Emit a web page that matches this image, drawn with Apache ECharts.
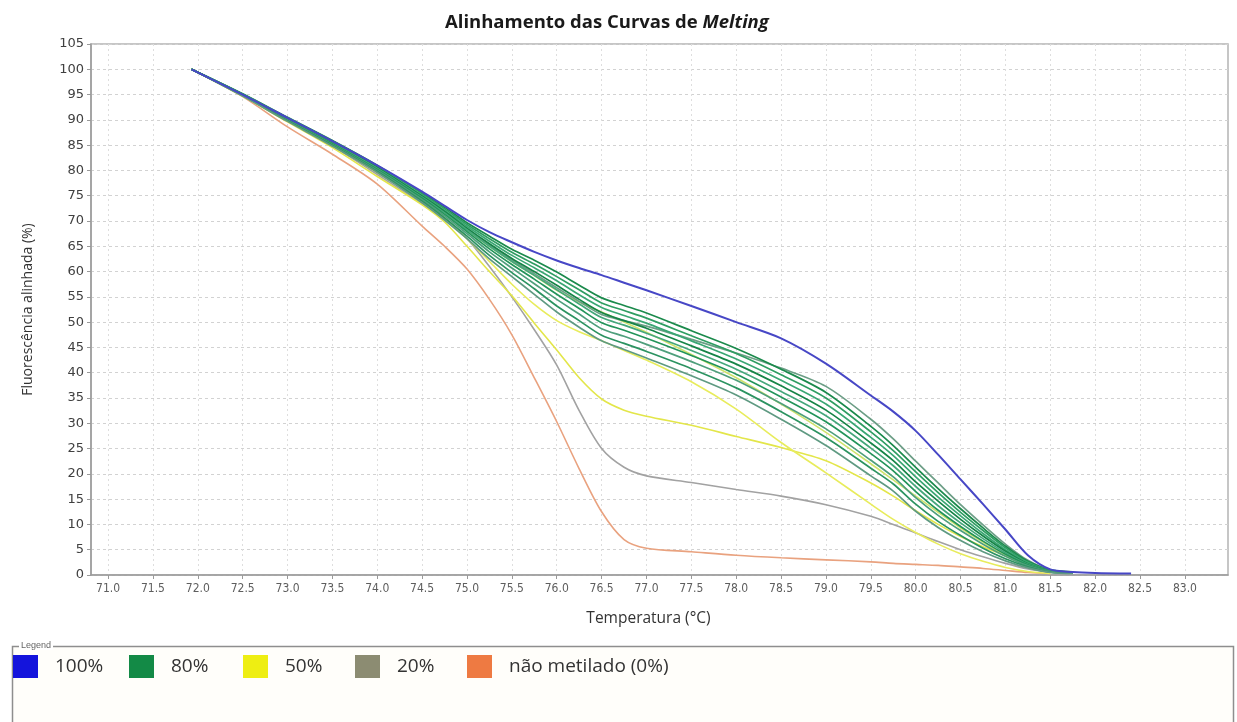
<!DOCTYPE html>
<html>
<head>
<meta charset="utf-8">
<title>Alinhamento das Curvas de Melting</title>
<script src="https://cdn.jsdelivr.net/npm/echarts@6/dist/echarts.min.js"></script>
<style>
  html, body { margin: 0; padding: 0; background: #ffffff; }
  #chart { width: 1237px; height: 722px; }
</style>
</head>
<body>
<div id="chart"></div>
<script>
// Temperatures (°C) at which each melting curve is sampled
const TEMPS = [71.93, 72.5, 73.0, 73.5, 74.0, 74.5, 74.75, 75.0, 75.25, 75.5, 75.75, 76.0, 76.25, 76.5, 76.75, 77.0,
               77.5, 78.0, 78.5, 79.0, 79.5, 79.75, 80.0, 80.25, 80.5, 80.75, 81.0, 81.25, 81.5, 81.75, 82.0, 82.4];

// Tick positions on the temperature axis
const X_TICKS = [71.0, 71.5, 72.0, 72.5, 73.0, 73.5, 74.0, 74.5, 75.0, 75.5, 76.0, 76.5, 77.0,
                 77.5, 78.0, 78.5, 79.0, 79.5, 80.0, 80.5, 81.0, 81.5, 82.0, 82.5, 83.0];

// Aligned fluorescence (%) per curve
const M100 = [100, 95.0, 90.4, 85.8, 81.0, 75.8, 73.0, 70.2, 67.8, 65.8, 63.9, 62.2, 60.7, 59.3, 57.8, 56.3,
              53.2, 50.0, 46.8, 41.8, 35.5, 32.3, 28.5, 23.8, 18.9, 14.0, 9.0, 3.9, 1.1, 0.6, 0.4, 0.3];

const M80_A = [100, 95.0, 90.2, 85.5, 80.5, 74.8, 71.8, 68.4, 65.3, 62.3, 59.6, 56.8, 54.1, 51.5, 50.3, 49.2,
               46.6, 43.9, 40.9, 37.3, 30.8, 26.9, 22.5, 18.2, 13.9, 9.9, 6.1, 2.9, 1.0, 0.6, null, null];
const M80_B = [100, 95.15, 90.5, 85.9, 81.0, 75.6, 72.7, 69.65, 67.0, 64.4, 62.25, 59.9, 57.3, 54.8, 53.3, 51.8,
               48.3, 44.8, 40.7, 36.1, 29.4, 25.6, 21.3, 17.1, 13.1, 9.3, 5.7, 2.7, 1.0, 0.6, null, null];
const M80_C = [100, 95.1, 90.4, 85.8, 80.9, 75.4, 72.4, 69.3, 66.5, 63.8, 61.5, 59.0, 56.4, 53.8, 52.3, 50.8,
               47.3, 43.8, 39.6, 35.0, 28.3, 24.6, 20.4, 16.3, 12.4, 8.8, 5.4, 2.5, 0.9, 0.5, null, null];
const M80_D = [100, 95.05, 90.3, 85.6, 80.7, 75.1, 72.1, 68.95, 66.0, 63.2, 60.75, 58.2, 55.4, 52.9, 51.3, 49.8,
               46.3, 42.7, 38.5, 33.8, 27.2, 23.6, 19.4, 15.4, 11.7, 8.2, 5.0, 2.4, 0.85, 0.5, null, null];
const M80_E = [100, 95.0, 90.2, 85.5, 80.6, 74.9, 71.9, 68.6, 65.5, 62.6, 60.0, 57.3, 54.5, 51.9, 50.3, 48.8,
               45.3, 41.7, 37.4, 32.6, 26.1, 22.6, 18.4, 14.6, 11.0, 7.7, 4.7, 2.2, 0.8, 0.5, null, null];
const M80_F = [100, 94.95, 90.15, 85.4, 80.4, 74.7, 71.6, 68.25, 65.0, 62.0, 59.25, 56.4, 53.6, 50.9, 49.4, 47.8,
               44.4, 40.7, 36.3, 31.5, 25.1, 21.6, 17.5, 13.7, 10.3, 7.2, 4.4, 2.1, 0.75, 0.45, null, null];
const M80_G = [100, 94.9, 90.1, 85.3, 80.2, 74.5, 71.3, 67.9, 64.5, 61.4, 58.5, 55.5, 52.7, 49.9, 48.4, 46.8,
               43.4, 39.7, 35.2, 30.3, 24.0, 20.6, 16.5, 12.8, 9.6, 6.7, 4.1, 2.0, 0.7, 0.4, null, null];
const M80_H = [100, 94.85, 89.95, 85.1, 80.0, 74.2, 71.0, 67.5, 63.9, 60.7, 57.6, 54.5, 51.6, 48.7, 47.2, 45.6,
               42.2, 38.5, 33.9, 28.9, 22.7, 19.4, 15.3, 11.8, 8.8, 6.1, 3.7, 1.8, 0.65, 0.4, null, null];
const M80_I = [100, 94.8, 89.8, 85.0, 79.8, 73.9, 70.6, 67.0, 63.2, 59.8, 56.6, 53.2, 50.3, 47.4, 45.8, 44.2,
               40.8, 37.0, 32.3, 27.2, 21.1, 18.0, 14.0, 10.6, 7.8, 5.3, 3.2, 1.6, 0.55, 0.35, null, null];
const M80_J = [100, 94.7, 89.7, 84.8, 79.6, 73.6, 70.2, 66.5, 62.5, 59.0, 55.5, 52.0, 49.0, 46.3, 44.6, 42.9,
               39.4, 35.6, 30.8, 25.6, 19.6, 16.6, 12.6, 9.4, 6.8, 4.6, 2.8, 1.4, 0.5, 0.3, null, null];

const M50_A = [100, 94.7, 89.6, 84.5, 78.8, 73.2, 69.8, 65.0, 60.0, 55.2, 49.8, 44.5, 39.0, 34.8, 32.6, 31.4,
               29.6, 27.4, 25.2, 22.6, 18.2, 15.6, 12.7, 10.0, 7.6, 5.6, 3.8, 1.9, 0.6, null, null, null];
const M50_B = [100, 94.8, 89.9, 85.0, 79.6, 74.2, 70.6, 66.5, 62.0, 57.5, 53.5, 50.3, 48.1, 46.3, 44.4, 42.5,
               38.2, 32.8, 26.2, 20.2, 14.0, 11.0, 8.4, 6.1, 4.2, 2.7, 1.5, 0.7, 0.3, null, null, null];
const M50_C = [100, 94.9, 90.1, 85.3, 80.2, 74.6, 71.5, 68.2, 65.0, 62.0, 59.2, 56.3, 54.0, 52.0, 50.0, 48.0,
               43.6, 39.0, 33.8, 28.2, 22.0, 18.8, 15.6, 12.4, 9.3, 6.5, 3.8, 1.8, 0.6, null, null, null];

const M20 = [100, 94.8, 89.8, 84.8, 79.2, 73.4, 70.4, 66.5, 61.0, 55.0, 48.5, 41.5, 32.5, 25.0, 21.3, 19.6,
             18.3, 16.9, 15.6, 13.9, 11.6, 10.0, 8.3, 6.6, 5.0, 3.6, 2.3, 1.2, 0.5, null, null, null];

const M0 = [100, 94.6, 88.6, 83.2, 77.3, 69.0, 65.0, 60.5, 54.5, 47.5, 39.0, 30.3, 21.0, 12.5, 7.0, 5.3,
            4.6, 3.9, 3.4, 3.0, 2.6, 2.3, 2.1, 1.9, 1.6, 1.3, 0.9, 0.5, 0.3, null, null, null];

// Legend groups
const GROUPS = ['100%', '80%', '50%', '20%', 'não metilado (0%)'];
const GROUP_SWATCH = ['#1414dc', '#138a46', '#eeee12', '#8c8c72', '#ee7a42'];
const LEGEND_LEFT = [13, 129, 243, 355, 467];

function curve(name, values, color, width, z) {
  return {
    type: 'line',
    name: name,
    data: TEMPS.map((t, i) => [t, values[i]]).filter(p => p[1] !== null),
    symbol: 'none',
    showSymbol: false,
    smooth: 0.3,
    lineStyle: { color: color, width: width },
    itemStyle: { color: color },
    emphasis: { disabled: true },
    z: z
  };
}

const series = [
  curve(GROUPS[4], M0, '#e9a27f', 1.6, 2),
  curve(GROUPS[3], M20, '#a2a2a2', 1.6, 3),
  curve(GROUPS[2], M50_A, '#e3e64a', 1.6, 4),
  curve(GROUPS[2], M50_B, '#e8ec5c', 1.6, 4),
  curve(GROUPS[2], M50_C, '#cfe36c', 1.6, 4),
  curve(GROUPS[1], M80_A, '#6c9e86', 1.7, 5),
  curve(GROUPS[1], M80_B, '#1b8a4c', 1.7, 5),
  curve(GROUPS[1], M80_C, '#2f9d62', 1.7, 5),
  curve(GROUPS[1], M80_D, '#3aa673', 1.7, 5),
  curve(GROUPS[1], M80_E, '#168447', 1.7, 5),
  curve(GROUPS[1], M80_F, '#45a77b', 1.7, 5),
  curve(GROUPS[1], M80_G, '#23945a', 1.7, 5),
  curve(GROUPS[1], M80_H, '#4f9f7c', 1.7, 5),
  curve(GROUPS[1], M80_I, '#2c9361', 1.7, 5),
  curve(GROUPS[1], M80_J, '#5f9a82', 1.7, 5),
  curve(GROUPS[0], M100, '#4747c6', 2, 6)
];

// One legend block per group, each in its own slot of the legend box
const legends = GROUPS.map((g, i) => ({
  left: LEGEND_LEFT[i],
  top: 655,
  padding: 0,
  itemWidth: 25,
  itemHeight: 23,
  icon: 'rect',
  selectedMode: false,
  textStyle: { fontFamily: 'Open Sans', fontSize: 19, color: '#333333', padding: [0, 0, 0, 12] },
  data: [{ name: g, icon: 'rect', itemStyle: { color: GROUP_SWATCH[i], borderWidth: 0 } }]
}));

const chart = echarts.init(document.getElementById('chart'), null, { renderer: 'canvas' });

chart.setOption({
  animation: false,
  backgroundColor: '#ffffff',
  title: {
    text: '{b|Alinhamento das Curvas de }{i|Melting}',
    left: 440,
    top: 8,
    textStyle: {
      rich: {
        b: { fontFamily: 'Open Sans', fontWeight: 'bold', fontSize: 18.5, color: '#1a1a1a' },
        i: { fontFamily: 'Open Sans', fontWeight: 'bold', fontStyle: 'italic', fontSize: 18.5, color: '#1a1a1a' }
      }
    }
  },
  grid: {
    left: 91, right: 9, top: 44, bottom: 147,
    show: true, borderColor: '#b4b4b4', borderWidth: 1.5, backgroundColor: '#ffffff'
  },
  legend: legends,
  xAxis: {
    type: 'value',
    min: 70.81,
    max: 83.48,
    name: 'Temperatura (°C)',
    nameLocation: 'middle',
    nameGap: 36,
    nameTextStyle: { fontFamily: 'Open Sans', fontSize: 15.5, color: '#333333', padding: [0, 22, 0, 0] },
    axisLine: { show: true, onZero: false, lineStyle: { color: '#9a9a9a', width: 1.5 } },
    axisTick: { show: true, inside: false, length: 4, customValues: X_TICKS, lineStyle: { color: '#9a9a9a' } },
    axisLabel: {
      customValues: X_TICKS,
      margin: 8,
      fontFamily: "'Liberation Sans Narrow', 'DejaVu Sans Condensed', sans-serif",
      fontSize: 12,
      color: '#5e5e5e',
      formatter: v => v.toFixed(1)
    },
    splitLine: { show: true, customValues: X_TICKS, lineStyle: { color: '#dedede', type: [2, 3], width: 1 } }
  },
  yAxis: {
    type: 'value',
    min: 0,
    max: 105,
    interval: 5,
    name: 'Fluorescência alinhada (%)',
    nameLocation: 'middle',
    nameGap: 56,
    nameTextStyle: { fontFamily: 'Open Sans', fontSize: 14, color: '#333333' },
    axisLine: { show: true, lineStyle: { color: '#9a9a9a', width: 1.5 } },
    axisTick: { show: true, inside: false, length: 4, lineStyle: { color: '#9a9a9a' } },
    axisLabel: { margin: 7, fontFamily: 'DejaVu Sans', fontSize: 13, color: '#404040' },
    splitLine: { show: true, lineStyle: { color: '#d2d2d2', type: [3, 3], width: 1 } }
  },
  graphic: [
    {
      type: 'rect',
      z: -1,
      shape: { x: 12.5, y: 646.5, width: 1221, height: 100 },
      style: { fill: '#fffefa', stroke: '#8e8e8e', lineWidth: 1.5 }
    },
    {
      type: 'text',
      z: 0,
      x: 19,
      y: 641,
      style: {
        text: 'Legend',
        fontFamily: 'Liberation Sans',
        fontSize: 9,
        fill: '#666666',
        backgroundColor: '#ffffff',
        padding: [0, 2]
      }
    }
  ],
  series: series
});
</script>
</body>
</html>
